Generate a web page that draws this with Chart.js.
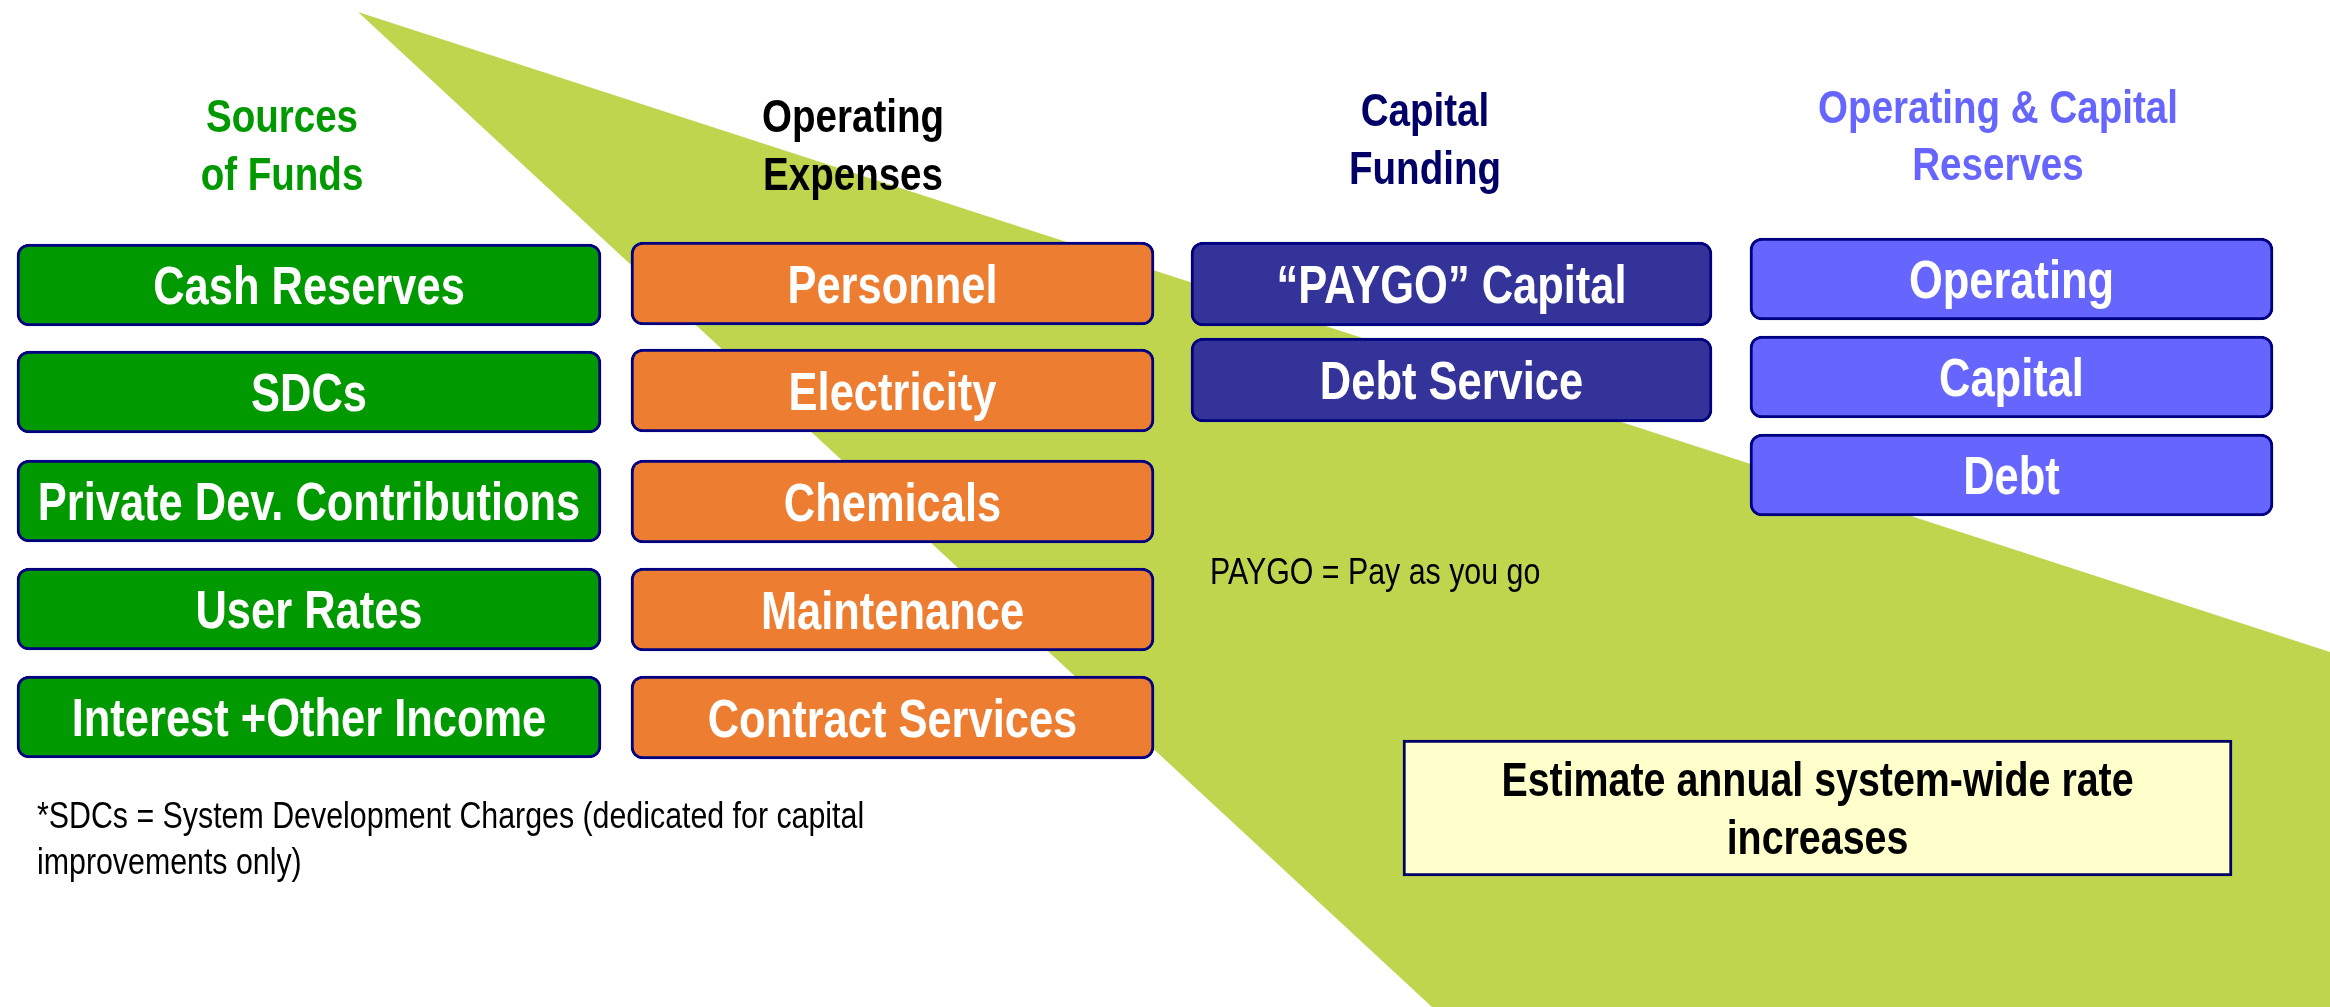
<!DOCTYPE html>
<html>
<head>
<meta charset="utf-8">
<script src="https://cdn.jsdelivr.net/npm/chart.js@4.4.1/dist/chart.umd.min.js"></script>
<style>
  html, body { margin: 0; padding: 0; background: #ffffff; }
  #wrap { width: 2330px; height: 1007px; position: relative; }
</style>
</head>
<body>
<div id="wrap"><canvas id="flow"></canvas></div>
<script>
// column headings and box labels
const headings = [
  ["Sources", "of Funds"],
  ["Operating", "Expenses"],
  ["Capital", "Funding"],
  ["Operating & Capital", "Reserves"],
];
const sourceItems = ["Cash Reserves", "SDCs", "Private Dev. Contributions", "User Rates", "Interest +Other Income"];
const expenseItems = ["Personnel", "Electricity", "Chemicals", "Maintenance", "Contract Services"];
const capitalItems = ["\u201CPAYGO\u201D Capital", "Debt Service"];
const reserveItems = ["Operating", "Capital", "Debt"];
const outcomeItems = [["Estimate annual system-wide rate", "increases"]];
const footnotes = ["*SDCs = System Development Charges (dedicated for capital", "improvements only)"];
const paygoNote = "PAYGO = Pay as you go";

// page layout (units = pixels of the 2330 x 1007 frame)
const W = 2330, H = 1007;
const columns = [
  { items: sourceItems, left: 17, right: 601, tops: [244, 351, 460, 568, 676], h: 82, fill: "#009900", head: "#009900", headX: 282, headY: [132, 190] },
  { items: expenseItems, left: 631, right: 1154, tops: [242, 349, 460, 568, 676], h: 83, fill: "#ED7D31", head: "#000000", headX: 853, headY: [132, 190] },
  { items: capitalItems, left: 1191, right: 1712, tops: [242, 338], h: 84, fill: "#333399", head: "#000066", headX: 1425, headY: [126, 184] },
  { items: reserveItems, left: 1750, right: 2273, tops: [238, 336, 434], h: 82, fill: "#6666FF", head: "#6666FF", headX: 1998, headY: [123, 180] },
];
const outcomeBox = { left: 1403, right: 2232, top: 740, h: 136 };
const wedge = [[358, 12], [2330, 652], [2330, 1007], [1432, 1007]];

// narrow font check
const probe = document.createElement("canvas").getContext("2d");
probe.font = 'bold 50px "Liberation Sans Narrow", monospace';
const wNarrow = probe.measureText("Sources of Funds").width;
probe.font = "bold 50px monospace";
const hasNarrow = Math.abs(wNarrow - probe.measureText("Sources of Funds").width) > 1;

function drawText(ctx, text, x, y, weight, size, color, align) {
  ctx.save();
  ctx.fillStyle = color;
  ctx.textBaseline = "alphabetic";
  ctx.textAlign = align || "center";
  if (hasNarrow) {
    ctx.font = weight + " " + size + 'px "Liberation Sans Narrow"';
    ctx.fillText(text, x, y);
  } else {
    ctx.font = weight + " " + size + 'px "Liberation Sans", Arial';
    ctx.translate(x, y);
    ctx.scale(0.82, 1);
    ctx.fillText(text, 0, 0);
  }
  ctx.restore();
}

const datasets = [];
datasets.push({
  type: "line",
  data: wedge.map(([x, y]) => ({ x, y })),
  backgroundColor: "#BFD54E",
  borderWidth: 0,
  pointRadius: 0,
  fill: "shape",
  tension: 0,
  clip: false,
  order: 10,
});
columns.forEach((col) => {
  datasets.push({
    type: "bar",
    indexAxis: "y",
    labels: col.items,
    data: col.items.map((_, i) => ({ y: col.tops[i] + col.h / 2, x: [col.left, col.right] })),
    backgroundColor: col.fill,
    borderColor: "#000080",
    borderWidth: 3,
    borderRadius: 12,
    borderSkipped: false,
    barThickness: col.h,
    grouped: false,
    order: 1,
  });
});
datasets.push({
  type: "bar",
  indexAxis: "y",
  labels: outcomeItems,
  data: outcomeItems.map(() => ({ y: outcomeBox.top + outcomeBox.h / 2, x: [outcomeBox.left, outcomeBox.right] })),
  backgroundColor: "#FFFFCC",
  borderColor: "#000066",
  borderWidth: 3,
  borderRadius: 0,
  borderSkipped: false,
  barThickness: outcomeBox.h,
  grouped: false,
  order: 1,
});

const textPlugin = {
  id: "flowText",
  afterDatasetsDraw(chart) {
    const ctx = chart.ctx;
    const xs = chart.scales.x, ys = chart.scales.y;
    columns.forEach((col, c) => {
      headings[c].forEach((line, k) => {
        drawText(ctx, line, xs.getPixelForValue(col.headX), ys.getPixelForValue(col.headY[k]), "bold", 47, col.head);
      });
    });
    chart.data.datasets.forEach((ds, di) => {
      if (ds.type !== "bar") return;
      const meta = chart.getDatasetMeta(di);
      meta.data.forEach((bar, i) => {
        const p = bar.getCenterPoint();
        const label = ds.labels[i];
        if (Array.isArray(label)) {
          drawText(ctx, label[0], p.x, p.y - 12, "bold", 48, "#000000");
          drawText(ctx, label[1], p.x, p.y + 46, "bold", 48, "#000000");
        } else {
          drawText(ctx, label, p.x, p.y + 19, "bold", 53, "#ffffff");
        }
      });
    });
    drawText(ctx, footnotes[0], xs.getPixelForValue(37), ys.getPixelForValue(828), "normal", 37, "#000000", "left");
    drawText(ctx, footnotes[1], xs.getPixelForValue(37), ys.getPixelForValue(874), "normal", 37, "#000000", "left");
    drawText(ctx, paygoNote, xs.getPixelForValue(1210), ys.getPixelForValue(584), "normal", 37, "#000000", "left");
  },
};

new Chart("flow", {
  data: { datasets },
  options: {
    responsive: true,
    maintainAspectRatio: false,
    animation: false,
    layout: { padding: 0 },
    plugins: {
      legend: { display: false },
      tooltip: { enabled: false },
    },
    scales: {
      x: { type: "linear", min: 0, max: W, offset: false, display: false },
      y: { type: "linear", min: 0, max: H, reverse: true, offset: false, display: false },
    },
  },
  plugins: [textPlugin],
});
</script>
</body>
</html>
